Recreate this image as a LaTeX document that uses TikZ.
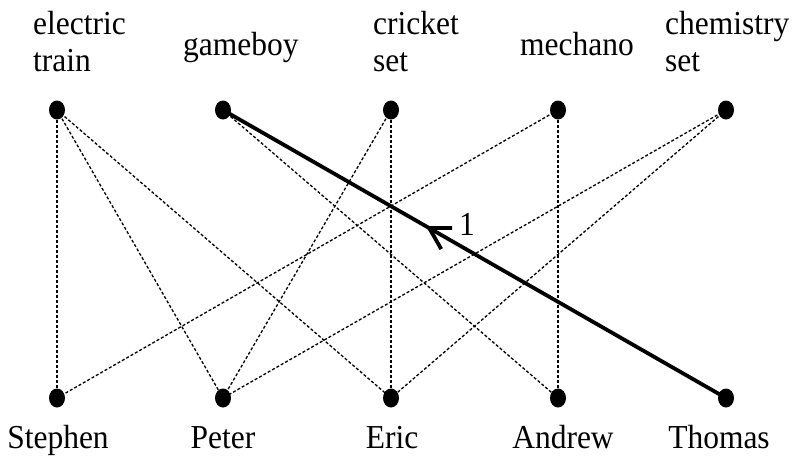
\documentclass[tikz,border=0pt]{standalone}
\usepackage{fontspec}
\setmainfont[FakeStretch=0.94]{Liberation Serif}
\begin{document}
\begin{tikzpicture}[x=1pt,y=-1pt,
  label/.style={font=\fontsize{33.5}{37}\selectfont,inner sep=0pt,align=left},
  link/.style={line width=1.3pt,dash pattern=on 3pt off 2pt},
  chosen/.style={line width=3.8pt},
  barb/.style={line width=3.8pt,line cap=butt,line join=miter}]
\useasboundingbox (0,0) rectangle (794,456);
% vertices
\foreach \n/\x in {et/57,gb/223,cs/391,me/558,ch/726}
  \coordinate (\n) at (\x,110);
\foreach \n/\x in {st/57,pe/223,er/391,an/558,th/726}
  \coordinate (\n) at (\x,398);
% edges
\draw[link] (et) -- (st);
\draw[link] (et) -- (pe);
\draw[link] (et) -- (er);
\draw[link] (gb) -- (an);
\draw[link] (cs) -- (pe);
\draw[link] (cs) -- (er);
\draw[link] (me) -- (st);
\draw[link] (me) -- (an);
\draw[link] (ch) -- (pe);
\draw[link] (ch) -- (er);
\draw[chosen] (gb) -- coordinate[pos=0.41] (tip) (th);
% arrow head on the chosen edge
\draw[barb] (tip) ++(23,0) -- (tip) -- ++(12,21);
\node[label,anchor=base] (one) at (467,235) {1};
% dots
\foreach \n in {et,gb,cs,me,ch,st,pe,er,an,th}
  \fill (\n) ellipse [x radius=8,y radius=9.5];
% labels
\node[label,anchor=north west] (let) at (33,11) {electric\\train};
\node[label,anchor=base west] (lgb) at (183,55) {gameboy};
\node[label,anchor=north west] (lcs) at (373,11) {cricket\\set};
\node[label,anchor=base west] (lme) at (520,55) {mechano};
\node[label,anchor=north west] (lch) at (665,11) {chemistry\\set};
\node[label,anchor=base] (lst) at (58,448) {Stephen};
\node[label,anchor=base] (lpe) at (223,448) {Peter};
\node[label,anchor=base] (ler) at (392,448) {Eric};
\node[label,anchor=base] (lan) at (563,448) {Andrew};
\node[label,anchor=base] (lth) at (719,448) {Thomas};
\end{tikzpicture}
\end{document}
